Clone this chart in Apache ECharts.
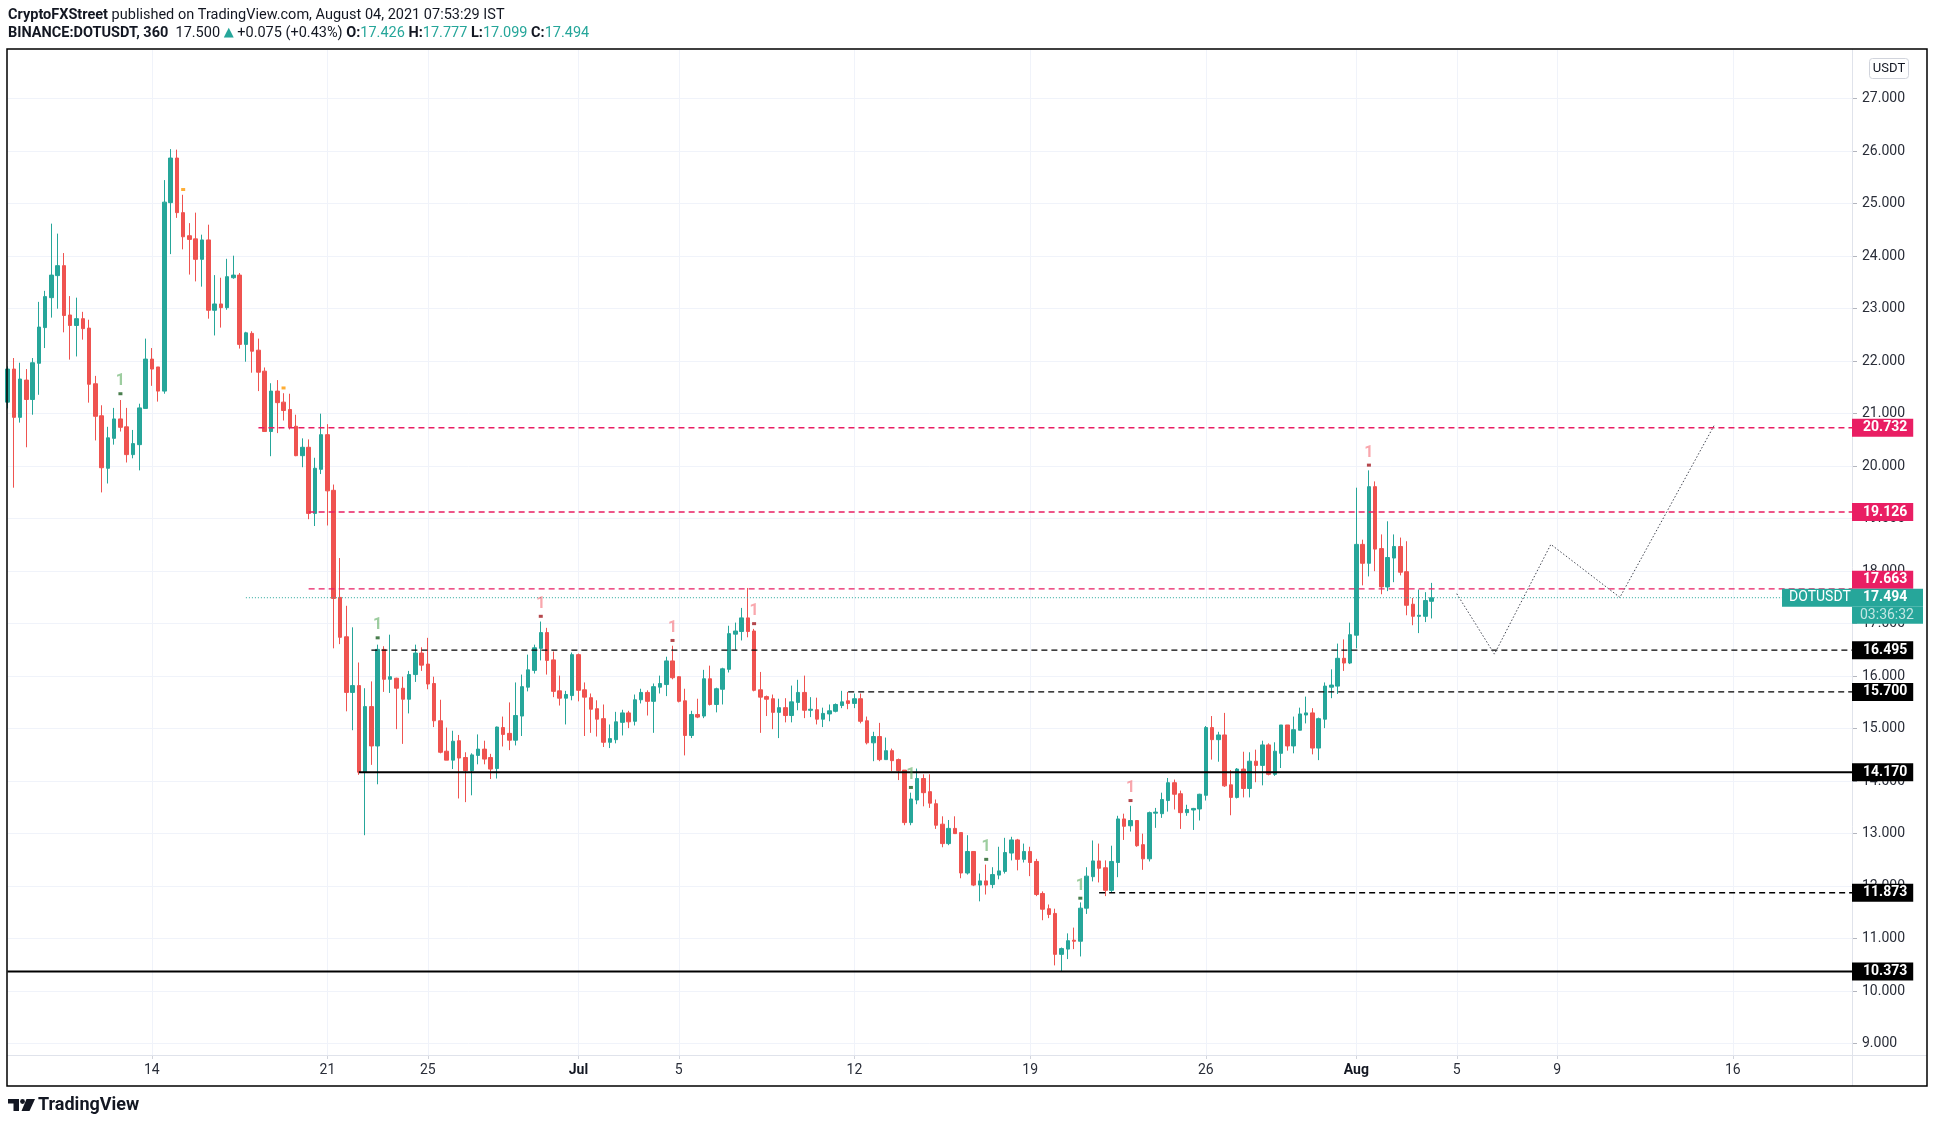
<!DOCTYPE html>
<html>
<head>
<meta charset="utf-8">
<script src="https://cdn.jsdelivr.net/npm/echarts@6/dist/echarts.min.js"></script>
<style>
html,body{margin:0;padding:0;background:#ffffff;}
#chart{width:1935px;height:1127px;}
</style>
</head>
<body>
<div id="chart"></div>
<script>
// ---- DOT/USDT 6h candles, from 2021-06-08 06:00 to 2021-08-04 00:00 ----
const firstCandle = Date.UTC(2021, 5, 8, 6);
const candleHours = 6;
const totalSlots = 295; // candles + empty future slots up to the right edge

const opens = [
21.22,21.85,20.93,21.64,21.27,21.96,22.64,23.21,23.63,23.82,
22.88,22.68,22.81,22.63,21.57,20.96,19.96,20.53,20.90,20.75,
20.22,20.41,21.10,22.04,21.89,21.43,25.02,25.87,24.83,24.39,
24.33,23.94,24.31,22.97,23.09,23.02,23.59,23.64,22.32,22.53,
22.21,21.81,20.66,21.43,21.22,21.08,20.76,20.20,20.36,19.10,
19.94,20.60,19.54,17.50,16.75,15.69,15.82,14.17,15.42,14.67,
16.51,15.94,15.96,15.77,15.56,16.03,16.44,16.23,15.86,15.15,
14.57,14.40,14.77,14.45,14.20,14.49,14.61,14.45,14.24,15.02,
14.91,14.78,15.24,15.79,16.11,16.53,16.83,16.31,15.72,15.58,
15.63,16.41,15.74,15.59,15.38,15.19,14.74,14.79,15.12,15.30,
15.14,15.55,15.69,15.52,15.79,15.84,16.29,15.99,15.53,14.87,
15.27,15.24,15.95,15.46,15.75,16.13,16.80,16.85,17.11,16.86,
15.74,15.61,15.57,15.31,15.40,15.25,15.50,15.69,15.35,15.36,
15.18,15.28,15.33,15.44,15.53,15.48,15.57,15.15,14.73,14.85,
14.41,14.58,14.41,14.21,13.21,13.64,14.05,13.80,13.57,13.18,
12.81,13.10,13.02,12.25,12.66,12.02,12.10,12.03,12.21,12.28,
12.63,12.88,12.51,12.66,12.47,11.86,11.57,11.48,10.70,10.80,
10.97,10.95,11.58,12.18,12.48,12.35,11.92,12.45,13.28,13.15,
13.25,12.79,12.52,13.39,13.38,13.63,13.97,13.76,13.40,13.45,
13.47,13.73,15.02,14.79,14.88,13.93,13.69,14.23,13.86,14.38,
14.30,14.69,14.13,14.53,15.07,14.67,14.97,15.26,15.30,14.63,
15.18,15.79,15.81,16.34,16.25,16.78,18.51,18.15,19.61,18.43,
17.70,18.25,18.47,17.99,17.37,17.14,17.14,17.426];

const closes = [
21.85,20.93,21.66,21.27,21.97,22.65,23.23,23.64,23.82,22.87,
22.68,22.81,22.62,21.56,20.95,19.97,20.54,20.90,20.74,20.22,
20.43,21.11,22.04,21.85,21.43,25.03,25.87,24.83,24.37,24.32,
23.94,24.31,22.97,23.09,23.02,23.61,23.64,22.32,22.54,22.19,
21.79,20.66,21.43,21.21,21.06,20.74,20.20,20.36,19.10,19.96,
20.60,19.53,17.48,16.74,15.69,15.82,14.17,15.42,14.67,16.51,
15.94,15.99,15.77,15.56,16.03,16.44,16.21,15.85,15.15,14.55,
14.40,14.76,14.44,14.20,14.50,14.61,14.42,14.23,15.03,14.89,
14.78,15.25,15.80,16.12,16.54,16.83,16.30,15.71,15.58,15.65,
16.41,15.73,15.60,15.37,15.18,14.74,14.81,15.13,15.30,15.13,
15.55,15.69,15.52,15.80,15.86,16.29,15.97,15.52,14.87,15.27,
15.22,15.95,15.46,15.76,16.14,16.81,16.86,17.11,16.85,15.73,
15.60,15.56,15.31,15.40,15.25,15.51,15.69,15.35,15.37,15.18,
15.29,15.34,15.46,15.51,15.48,15.57,15.14,14.73,14.85,14.41,
14.58,14.39,14.20,13.21,13.66,14.05,13.78,13.58,13.16,12.81,
13.10,13.00,12.25,12.66,12.02,12.10,12.02,12.22,12.29,12.64,
12.88,12.51,12.66,12.45,11.84,11.56,11.46,10.70,10.81,10.96,
10.95,11.58,12.19,12.48,12.34,11.92,12.47,13.28,13.14,13.25,
12.77,12.52,13.40,13.41,13.65,13.97,13.75,13.40,13.46,13.48,
13.75,15.02,14.79,14.88,13.91,13.69,14.23,13.86,14.38,14.30,
14.69,14.13,14.57,15.07,14.67,14.98,15.28,15.30,14.63,15.19,
15.81,15.83,16.34,16.25,16.79,18.51,18.15,19.61,18.42,17.70,
18.26,18.47,17.98,17.35,17.14,17.16,17.44,17.494];

const lows = [
21.10,19.59,20.83,20.36,20.98,21.36,22.25,22.83,23.00,22.55,
22.03,22.09,22.41,21.21,20.49,19.50,19.67,20.41,20.66,20.07,
20.15,19.92,21.10,21.53,21.23,21.38,24.04,24.73,24.13,23.65,
23.52,23.42,22.81,22.49,22.64,22.98,23.57,22.24,21.99,21.78,
21.43,20.66,20.19,20.63,20.87,20.70,20.19,19.98,18.99,18.86,
19.85,18.87,16.53,16.61,15.33,14.97,14.12,12.97,14.31,13.94,
15.70,15.68,14.99,14.71,15.29,15.89,16.10,15.75,15.03,14.53,
14.40,14.23,13.67,13.60,13.73,14.32,14.32,14.04,14.05,14.66,
14.59,14.68,14.86,15.71,16.05,16.30,16.03,15.60,15.44,15.08,
15.54,15.52,14.86,14.92,14.85,14.65,14.63,14.72,14.87,15.01,
15.06,15.48,15.25,14.92,15.67,15.62,15.94,15.50,14.49,14.82,
15.20,15.20,15.44,15.31,15.46,16.07,16.50,16.68,16.74,15.71,
14.92,15.24,14.99,14.82,15.12,15.12,15.35,15.20,15.22,15.08,
15.03,15.14,15.31,15.39,15.37,15.39,15.10,14.70,14.38,14.38,
14.41,14.19,14.02,13.16,13.16,13.56,13.52,13.49,13.09,12.74,
12.78,13.00,12.15,12.22,12.00,11.71,11.84,11.96,12.13,12.24,
12.49,12.30,12.45,12.19,11.81,11.35,11.39,10.49,10.38,10.61,
10.80,10.66,11.47,12.09,12.07,11.81,11.88,12.17,12.88,13.04,
12.75,12.31,12.47,13.11,13.30,13.42,13.46,13.09,13.34,13.07,
13.25,13.63,14.41,14.37,13.89,13.35,13.67,13.69,13.69,13.98,
13.92,14.11,14.10,14.25,14.58,14.53,14.97,15.10,14.51,14.40,
15.01,15.58,15.66,16.10,16.23,16.53,17.73,17.90,18.00,17.56,
17.62,17.79,17.92,17.16,16.97,16.82,17.03,17.099];

const highs = [
21.90,22.06,21.97,21.85,22.06,23.13,23.34,24.62,24.43,24.06,
23.24,23.21,22.94,22.79,21.72,21.16,20.75,21.11,21.26,21.11,
20.69,21.19,22.43,22.25,21.89,25.45,26.04,26.03,25.17,24.63,
24.83,24.41,24.60,23.64,23.59,23.95,24.01,23.68,22.56,22.57,
22.43,21.88,21.58,21.64,21.39,21.38,20.98,20.53,20.51,20.16,
21.00,20.80,19.65,18.25,17.34,16.93,16.26,15.77,15.90,16.60,
16.57,16.79,15.97,15.99,16.10,16.60,16.55,16.73,15.99,15.55,
15.02,14.96,14.88,14.55,14.53,14.89,14.77,14.52,15.04,15.23,
15.50,15.88,16.03,16.41,16.60,17.04,16.92,16.47,16.01,15.72,
16.45,16.43,15.88,15.67,15.54,15.46,15.08,15.32,15.36,15.34,
15.65,15.76,15.73,15.86,16.01,16.37,16.58,16.00,15.76,15.34,
15.57,16.12,16.20,15.78,16.16,16.96,17.02,17.30,17.68,16.90,
16.08,15.63,15.65,15.57,15.58,15.82,15.93,16.01,15.60,15.59,
15.40,15.46,15.48,15.72,15.70,15.67,15.67,15.23,14.94,15.11,
14.83,14.62,14.43,14.21,13.78,14.24,14.13,14.13,13.65,13.33,
13.26,13.33,13.02,12.97,12.66,12.24,12.41,12.36,12.75,12.92,
12.94,12.90,12.81,12.75,12.52,11.90,11.65,11.57,10.83,11.10,
11.21,11.69,12.36,12.87,12.81,12.49,12.77,13.34,13.38,13.53,
13.25,13.00,13.42,13.49,13.78,14.06,14.03,13.82,13.55,13.49,
13.76,15.05,15.24,14.94,15.30,14.21,14.25,14.56,14.55,14.60,
14.77,14.72,14.74,15.07,15.07,15.23,15.40,15.61,15.39,15.21,
15.88,16.13,16.62,16.70,17.02,19.59,18.60,19.92,19.71,18.70,
18.95,18.70,18.64,18.57,17.49,17.65,17.60,17.777];

// ---- horizontal levels ----
const levelValues = [20.732, 19.126, 17.663, 16.495, 15.700, 14.170, 11.873, 10.373];
const levelStarts = ['2021-06-18 06:00','2021-06-20 06:00','2021-06-20 06:00','2021-06-22 18:00',
                     '2021-07-11 18:00','2021-06-22 06:00','2021-07-21 18:00','2021-06-08 06:00'];
const levelColors = ['#e91e63','#e91e63','#e91e63','#000000','#000000','#000000','#000000','#000000'];
const levelDashed = [true, true, true, true, true, false, true, false];
const levelLabelShift = [0, 0, -9, 0, 0, 0, 0, 0]; // label nudged to avoid the price label

// ---- current price line ----
const currentStart = '2021-06-17 18:00';
const countdown = '03:36:32';

// ---- projected path (dotted) ----
const projDates  = ['2021-08-05 00:00','2021-08-06 12:00','2021-08-08 18:00','2021-08-11 12:00','2021-08-15 06:00'];
const projValues = [17.57, 16.42, 18.51, 17.50, 20.77];

// ---- TD setup "1" marks ----
const sellMarkDates  = ['2021-06-29 12:00','2021-07-04 18:00','2021-07-08 00:00','2021-07-23 00:00','2021-08-01 12:00'];
const sellMarkValues = [17.14, 16.68, 17.00, 13.63, 20.02];
const buyMarkDates   = ['2021-06-12 18:00','2021-06-23 00:00','2021-07-14 06:00','2021-07-17 06:00','2021-07-21 00:00'];
const buyMarkValues  = [21.38, 16.73, 13.88, 12.51, 11.77];
const warnMarkDates  = ['2021-06-15 06:00','2021-06-19 06:00'];
const warnMarkValues = [25.27, 21.49];

// ---- axis ticks ----
const timeTicks = ['2021-06-14 00:00','2021-06-21 00:00','2021-06-25 00:00','2021-07-01 00:00',
                   '2021-07-05 00:00','2021-07-12 00:00','2021-07-19 00:00','2021-07-26 00:00',
                   '2021-08-01 00:00','2021-08-05 00:00','2021-08-09 00:00','2021-08-16 00:00'];
const priceTicks = [9,10,11,12,13,14,15,16,17,18,19,20,21,22,23,24,25,26,27];
const priceMin = 8.783, priceMax = 27.928;

// ------------------------------------------------------------------
const FONT = 'Roboto, "Noto Sans", "DejaVu Sans", sans-serif';
const MONTHS = ['Jan','Feb','Mar','Apr','May','Jun','Jul','Aug','Sep','Oct','Nov','Dec'];
function pad(n){ return String(n).padStart(2,'0'); }
function fmtDate(d){ return d.getUTCFullYear()+'-'+pad(d.getUTCMonth()+1)+'-'+pad(d.getUTCDate())+' '+pad(d.getUTCHours())+':'+pad(d.getUTCMinutes()); }
const categories = [];
for (let k = 0; k < totalSlots; k++) categories.push(fmtDate(new Date(firstCandle + k*candleHours*3600e3)));
const lastCat = categories[categories.length-1];
const candleData = opens.map((o,k) => [o, closes[k], lows[k], highs[k]]);
const last = candleData.length - 1;
const tickSet = new Set(timeTicks);
const isTick = (idx, val) => tickSet.has(val);
function timeLabel(val){ const m = +val.slice(5,7), d = +val.slice(8,10); return d === 1 ? '{m|'+MONTHS[m-1]+'}' : String(d); }

const UP = '#26a69a', DOWN = '#ef5350';

const series = [];
series.push({
  type:'candlestick', data:candleData, barWidth:4, z:2, clip:true, silent:true,
  itemStyle:{color:UP, color0:DOWN, borderColor:UP, borderColor0:DOWN, borderWidth:1}
});
levelValues.forEach((v,k) => {
  series.push({
    type:'line', data:[[levelStarts[k], v],[lastCat, v]], symbol:'none', silent:true, z:4,
    lineStyle:{color:levelColors[k], width:levelDashed[k]?1.4:2, type:levelDashed[k]?[6,4]:'solid'},
    endLabel:{show:true, distance:0, offset:[0, levelLabelShift[k]], formatter:() => v.toFixed(3), backgroundColor:levelColors[k],
      color:'#ffffff', fontFamily:FONT, fontSize:14, fontWeight:'bold', lineHeight:14, padding:[2,6,2,11]}
  });
});
series.push({
  type:'line', data:[[currentStart, closes[last]],[lastCat, closes[last]]], symbol:'none', silent:true, z:5,
  lineStyle:{color:UP, width:1, type:[1,2]},
  endLabel:{show:true, distance:0, offset:[-70, 8.5],
    formatter:() => '{a|DOTUSDT}{b|' + closes[last].toFixed(3) + '}\n{c|}{d|' + countdown + '}',
    rich:{
      a:{width:63, padding:[0,0,0,7], height:18, lineHeight:18, backgroundColor:UP, color:'#fff', fontSize:14, fontFamily:FONT},
      b:{width:60, padding:[0,0,0,11], height:18, lineHeight:18, backgroundColor:UP, color:'#fff', fontSize:14, fontWeight:'bold', fontFamily:FONT},
      c:{width:70, height:17, lineHeight:17},
      d:{width:63, padding:[0,0,0,8], height:17, lineHeight:17, backgroundColor:UP, color:'rgba(255,255,255,0.72)', fontSize:14, fontFamily:FONT}
    }}
});
series.push({
  type:'line', data:projDates.map((d,k) => [d, projValues[k]]), symbol:'none', silent:true, z:4,
  lineStyle:{color:'#434651', width:1, type:[1.5,2]}
});
series.push({
  type:'scatter', data:sellMarkDates.map((d,k) => [d, sellMarkValues[k]]), symbol:'rect', symbolSize:[4,3], z:5, silent:true,
  itemStyle:{color:'#a3191f'},
  label:{show:true, formatter:'1', position:'top', distance:3, color:'rgba(242,54,69,0.55)', fontSize:16, fontWeight:'bold', fontFamily:FONT}
});
series.push({
  type:'scatter', data:buyMarkDates.map((d,k) => [d, buyMarkValues[k]]), symbol:'rect', symbolSize:[4,3], z:5, silent:true,
  itemStyle:{color:'#1b5e20'},
  label:{show:true, formatter:'1', position:'top', distance:3, color:'rgba(67,160,71,0.65)', fontSize:16, fontWeight:'bold', fontFamily:FONT}
});
series.push({
  type:'scatter', data:warnMarkDates.map((d,k) => [d, warnMarkValues[k]]), symbol:'rect', symbolSize:[4,3], z:5, silent:true,
  itemStyle:{color:'#ff9800'}
});

const option = {
  animation:false,
  backgroundColor:'#ffffff',
  textStyle:{fontFamily:FONT},
  grid:{left:7.5, right:83, top:50, bottom:72, containLabel:false},
  xAxis:{
    type:'category', data:categories, boundaryGap:false,
    axisLine:{show:false},
    axisTick:{show:true, interval:isTick, length:4, lineStyle:{color:'#d1d4dc'}},
    axisLabel:{interval:isTick, formatter:timeLabel, margin:8, fontSize:14, color:'#2a2e39', fontFamily:FONT,
      rich:{m:{fontWeight:'bold', fontSize:14, color:'#131722', fontFamily:FONT}}},
    splitLine:{show:true, interval:isTick, lineStyle:{color:'#f0f3fa', width:1}}
  },
  yAxis:{
    type:'value', position:'right', min:priceMin, max:priceMax, scale:true,
    axisLine:{show:false},
    axisTick:{show:true, length:5, customValues:priceTicks, lineStyle:{color:'#b2b5be'}},
    axisLabel:{customValues:priceTicks, formatter:v => v.toFixed(3), margin:10, fontSize:14, color:'#2a2e39', fontFamily:FONT},
    splitLine:{show:true, lineStyle:{color:'#f0f3fa', width:1}}
  },
  series:series,
  graphic:[
    {type:'line', shape:{x1:7, y1:1055.5, x2:1927, y2:1055.5}, style:{stroke:'#e0e3eb', lineWidth:1}, silent:true, z:1},
    {type:'line', shape:{x1:1852.5, y1:49, x2:1852.5, y2:1086}, style:{stroke:'#e0e3eb', lineWidth:1}, silent:true, z:1},
    {type:'rect', shape:{x:1869.5, y:58.5, width:39, height:20, r:3}, style:{fill:'#ffffff', stroke:'#d1d4dc', lineWidth:1}, silent:true, z:6},
    {type:'text', x:1889, y:68.5, style:{text:'USDT', fill:'#131722', font:'13px '+FONT, align:'center', verticalAlign:'middle'}, silent:true, z:7},
    {type:'rect', shape:{x:7, y:49, width:1920, height:1037}, style:{fill:'transparent', stroke:'#000000', lineWidth:1.5}, silent:true, z:100},
    {type:'text', x:8, y:15, silent:true, z:10, style:{
      text:'{b|CryptoFXStreet} published on TradingView.com, August 04, 2021 07:53:29 IST',
      fill:'#131722', font:'14.5px '+FONT, verticalAlign:'middle',
      rich:{b:{fontWeight:'bold', fontSize:14.5, fontFamily:FONT, fill:'#131722'}}}},
    {type:'text', x:8, y:33, silent:true, z:10, style:{
      text:'{b|BINANCE:DOTUSDT, 360}  17.500 {t|▲} +0.075 (+0.43%) {b|O:}{g|'+opens[last].toFixed(3)+'} {b|H:}{g|'+highs[last].toFixed(3)+'} {b|L:}{g|'+lows[last].toFixed(3)+'} {b|C:}{g|'+closes[last].toFixed(3)+'}',
      fill:'#131722', font:'14.5px '+FONT, verticalAlign:'middle',
      rich:{b:{fontWeight:'bold', fontSize:14.5, fontFamily:FONT, fill:'#131722'},
            g:{fontSize:14.5, fontFamily:FONT, fill:UP},
            t:{fontSize:13, fontFamily:FONT, fill:UP}}}},
    // TradingView logo
    {type:'rect', shape:{x:8, y:1099, width:11, height:4.5}, style:{fill:'#131722'}, silent:true, z:10},
    {type:'rect', shape:{x:13.5, y:1099, width:5.5, height:12}, style:{fill:'#131722'}, silent:true, z:10},
    {type:'circle', shape:{cx:22.5, cy:1101.5, r:2.4}, style:{fill:'#131722'}, silent:true, z:10},
    {type:'polygon', shape:{points:[[26.5,1099],[35,1099],[29.5,1111],[21.5,1111]]}, style:{fill:'#131722'}, silent:true, z:10},
    {type:'text', x:38, y:1105.5, style:{text:'TradingView', fill:'#131722', font:'bold 18px '+FONT, verticalAlign:'middle'}, silent:true, z:10}
  ]
};

const chart = echarts.init(document.getElementById('chart'), null, {renderer:'canvas'});
chart.setOption(option);
</script>
</body>
</html>
